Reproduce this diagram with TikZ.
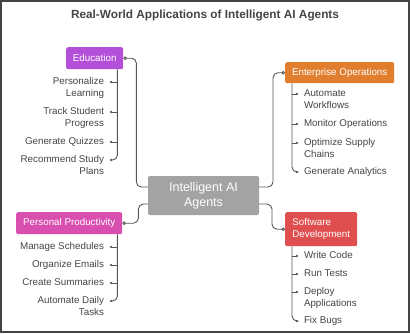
\documentclass[tikz,border=0pt]{standalone}
\usepackage{fontspec}
\setmainfont{Liberation Sans}
\usetikzlibrary{arrows.meta,positioning,calc}

\definecolor{eduC}{HTML}{B34FD8}
\definecolor{entC}{HTML}{E07E2E}
\definecolor{prodC}{HTML}{D94FB0}
\definecolor{softC}{HTML}{E04F4F}
\definecolor{ctrC}{HTML}{A3A3A3}
\definecolor{lineC}{HTML}{555555}
\definecolor{txtC}{HTML}{444444}

\tikzset{
  catbox/.style={rounded corners=2pt, text=white, inner xsep=5pt,
    font=\fontsize{9.8}{11.5}\selectfont, minimum height=22pt},
  itemL/.style={text=txtC, font=\fontsize{9.8}{12}\selectfont,
    inner sep=0pt, outer xsep=6pt, align=right, anchor=north east},
  itemR/.style={text=txtC, font=\fontsize{9.8}{12}\selectfont,
    inner sep=0pt, outer xsep=6pt, align=left, anchor=north west},
  link/.style={draw=lineC, line width=0.9pt, rounded corners=5pt},
  stub/.style={draw=lineC, line width=0.8pt, -{Circle[length=2.2pt]}},
  knob/.style={{Circle[open, length=3.5pt, fill=white]}-},
}

\begin{document}
\begin{tikzpicture}[x=1pt, y=-1pt]
  \useasboundingbox (0,0) rectangle (410,333);
  \draw[line width=2pt, draw=txtC] (1,1) rectangle (409,332);

  \node[font=\bfseries\fontsize{11.8}{13}\selectfont, text=txtC] (ttl)
    at (205,15) {Real-World Applications of Intelligent AI Agents};

  % Centre
  \node[fill=ctrC, rounded corners=2pt, text=white, align=center,
    minimum width=111pt, minimum height=39pt,
    font=\fontsize{12.5}{15}\selectfont] (ctr)
    at (203.5,195.5) {Intelligent AI\\Agents};

  % Categories
  \node[catbox, fill=eduC, minimum width=57pt, anchor=north west]
    (edu) at (66,47) {Education};
  \node[catbox, fill=prodC, minimum width=106pt, anchor=north west]
    (prod) at (16,212) {Personal Productivity};
  \node[catbox, fill=entC, minimum width=109pt, minimum height=21pt,
    anchor=north west] (ent) at (285,62) {Enterprise Operations};
  \node[catbox, fill=softC, minimum width=72pt, minimum height=34pt,
    align=left, anchor=north west] (soft) at (285,212)
    {Software\\Development};

  % Education items
  \node[itemL] (edu1) at (110,77.5) {Personalize\\Learning};
  \node[itemL] (edu2) at (110,107.5) {Track Student\\Progress};
  \node[itemL] (edu3) at (110,137.5) {Generate Quizzes};
  \node[itemL] (edu4) at (110,155.5) {Recommend Study\\Plans};

  % Productivity items
  \node[itemL] (prod1) at (110,242.5) {Manage Schedules};
  \node[itemL] (prod2) at (110,260.5) {Organize Emails};
  \node[itemL] (prod3) at (110,278.5) {Create Summaries};
  \node[itemL] (prod4) at (110,296.5) {Automate Daily\\Tasks};

  % Enterprise items
  \node[itemR] (ent1) at (298,89.5) {Automate\\Workflows};
  \node[itemR] (ent2) at (298,119.5) {Monitor Operations};
  \node[itemR] (ent3) at (298,138.5) {Optimize Supply\\Chains};
  \node[itemR] (ent4) at (298,167.5) {Generate Analytics};

  % Software items
  \node[itemR] (soft1) at (298,251.5) {Write Code};
  \node[itemR] (soft2) at (298,269.5) {Run Tests};
  \node[itemR] (soft3) at (298,287.5) {Deploy\\Applications};
  \node[itemR] (soft4) at (298,316.5) {Fix Bugs};

  % Links to centre
  \draw[link, knob] (edu.east) -- ++(13,0) |- ([yshift=8.5pt]ctr.west);
  \draw[link, knob] (prod.east) -- ++(16,0) |- ([yshift=-8.5pt]ctr.west);
  \draw[link, knob] (ent.west) -- ++(-12,0) |- ([yshift=8.5pt]ctr.east);
  \draw[link, knob] (soft.west) -- ++(-13,0) |- ([yshift=-8.5pt]ctr.east);

  % Item trees
  \coordinate (eduT) at ([xshift=-6pt]edu.south east);
  \coordinate (prodT) at ([xshift=-5pt]prod.south east);
  \coordinate (entT) at ([xshift=7pt]ent.south west);
  \coordinate (softT) at ([xshift=7pt]soft.south west);

  \foreach \c/\a in {edu/east, prod/east, ent/west, soft/west} {
    \foreach \i in {1,2,3,4}
      \coordinate (\c\i m) at ([yshift=-4.5pt]\c\i.north \a);
    \draw[link, -{Circle[length=2.2pt]}] (\c T) |- (\c4m);
    \foreach \i in {1,2,3}
      \draw[stub] (\c T |- \c\i m) -- (\c\i m);
  }
\end{tikzpicture}
\end{document}
